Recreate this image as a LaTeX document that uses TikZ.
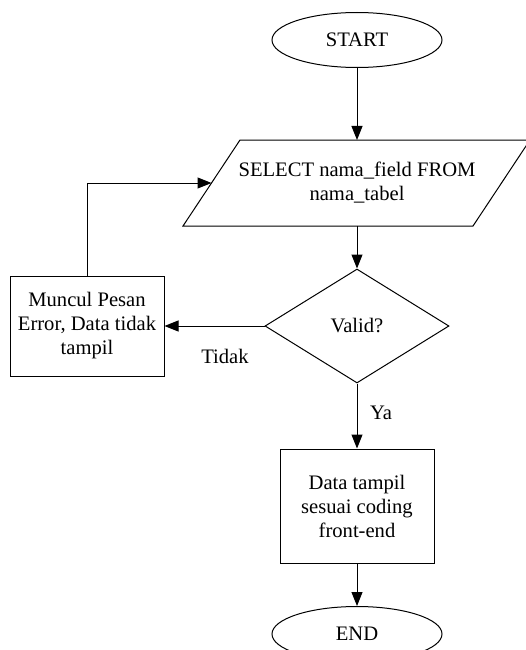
\documentclass[tikz,border=0pt]{standalone}
\usepackage{fontspec}
\setmainfont{Liberation Serif}
\usetikzlibrary{shapes.geometric,arrows.meta}
\begin{document}
\begin{tikzpicture}[x=1pt,y=-1pt,
  line width=1pt,
  every node/.style={font=\fontsize{20.6}{24}\selectfont, align=center},
  term/.style={draw, ellipse, minimum width=170pt, minimum height=55pt, inner sep=0pt},
  proc/.style={draw, rectangle, inner sep=0pt, minimum width=154pt},
  dec/.style={draw, diamond, inner sep=0pt, minimum width=184pt, minimum height=114pt},
  arr/.style={-{Triangle[length=14pt,width=11pt]}},
  lbl/.style={inner sep=0pt}]
\useasboundingbox (0,0) rectangle (525,650);
\fill[white] (0,0) rectangle (525,650);

\node[term] (start) at (357,40) {START};

\draw (240,140) -- (530,140) -- (473,226) -- (183,226) -- cycle;
\node (sel) at (357,183) {SELECT nama\_field FROM\\nama\_tabel};
\coordinate (selT) at (357,140);
\coordinate (selB) at (357,226);
\coordinate (selL) at (211.5,183);

\node[dec] (valid) at (357,326) {Valid?};
\node[proc, minimum height=100pt] (err) at (87,326) {Muncul Pesan\\Error, Data tidak\\tampil};
\node[proc, minimum height=114pt] (data) at (357,506) {Data tampil\\sesuai coding\\front-end};
\node[term] (end) at (357,634) {END};

\draw[arr] (start) -- (selT);
\draw[arr] (selB) -- (valid.north);
\draw[arr] (valid.west) -- (err.east);
\draw[arr] (err.north) |- (selL);
\draw[arr] (valid.south) -- (data.north);
\draw[arr] (data.south) -- (end.north);

\node[lbl] (tidak) at (225,356) {Tidak};
\node[lbl] (ya) at (381,413) {Ya};
\end{tikzpicture}
\end{document}
